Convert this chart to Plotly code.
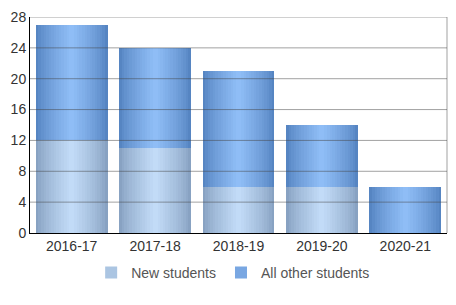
import plotly.graph_objects as go

categories = ["2016-17", "2017-18", "2018-19", "2019-20", "2020-21"]
new_students = [12, 11, 6, 6, 0]
other_students = [15, 13, 15, 8, 6]
y_ticks = [0, 4, 8, 12, 16, 20, 24, 28]

series = [
    ("New students", new_students, None, (136, 162, 194), (194, 219, 247)),
    ("All other students", other_students, new_students, (86, 133, 194), (143, 189, 246)),
]

BAR_W = 0.86
STEPS = 14

def mix(c1, c2, t):
    return "rgb(%d,%d,%d)" % tuple(round(a + (b - a) * t) for a, b in zip(c1, c2))

fig = go.Figure()
for name, vals, base, edge, center in series:
    for k in range(STEPS):
        t = k / (STEPS - 1)
        w = BAR_W * (1 - k / STEPS)
        fig.add_trace(go.Bar(
            x=categories, y=vals, base=base, width=w,
            name=name, legendgroup=name, showlegend=(k == STEPS // 2),
            marker=dict(color=mix(edge, center, t ** 0.8), line=dict(width=0)),
            hoverinfo="skip" if k else None,
        ))

# gridlines drawn over the bars, as in the reference
for v in y_ticks[1:]:
    fig.add_shape(type="line", xref="paper", x0=0, x1=1, yref="y", y0=v, y1=v,
                  line=dict(color="rgba(70,70,70,0.5)", width=1), layer="above")
fig.add_shape(type="line", xref="paper", x0=1, x1=1, yref="paper", y0=0, y1=1,
              line=dict(color="rgba(70,70,70,0.5)", width=1), layer="above")

fig.update_layout(
    width=456, height=305,
    margin=dict(l=30, r=9, t=17, b=72),
    barmode="overlay",
    plot_bgcolor="white", paper_bgcolor="white",
    font=dict(family="Liberation Sans, Arial, sans-serif", size=14, color="#333333"),
    showlegend=True,
    legend=dict(orientation="h", x=0.486, xanchor="center", y=-0.185, yanchor="middle",
                font=dict(size=14, color="#555555"), traceorder="normal",
                itemclick=False, itemdoubleclick=False),
    bargap=0,
)
fig.update_xaxes(type="category", range=[-0.5, 4.5], showline=True, linecolor="black",
                 linewidth=1, showgrid=False, ticks="", layer="above traces")
fig.update_yaxes(range=[0, 28], tickvals=y_ticks, showline=True, linecolor="black",
                 linewidth=1, showgrid=False, zeroline=False, ticks="", ticklen=0,
                 layer="above traces")

fig.write_html("out.html")
